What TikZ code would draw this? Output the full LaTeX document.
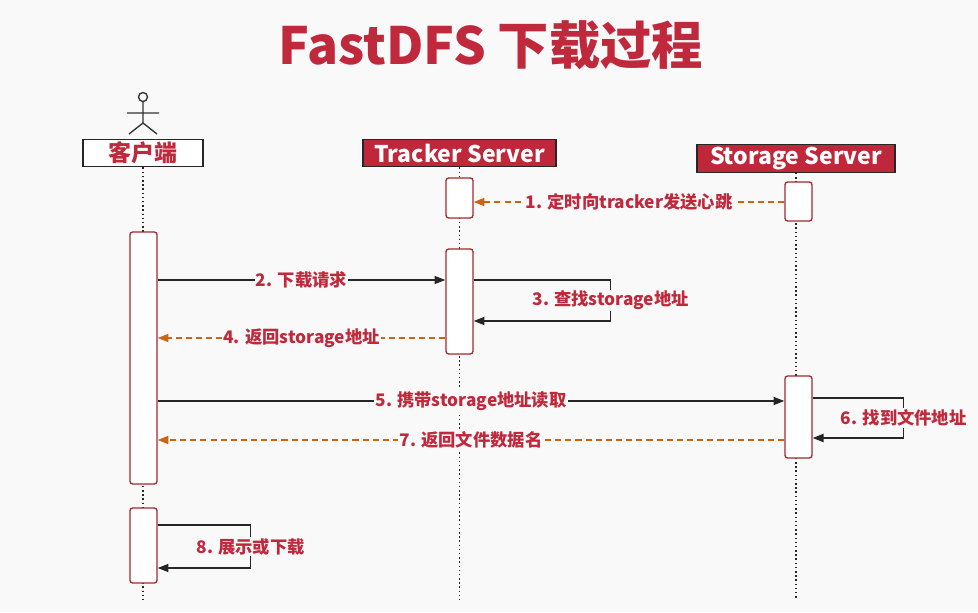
\documentclass[tikz,border=0pt]{standalone}
\usepackage{fontspec}
\setmainfont{Noto Sans CJK SC}
\usepackage{tikz}
\usetikzlibrary{positioning, calc, fit, arrows.meta}
\definecolor{titlered}{RGB}{192,40,60}
\definecolor{boxred}{RGB}{190,40,58}
\definecolor{actred}{RGB}{165,40,45}
\definecolor{replyorange}{RGB}{205,100,20}
\definecolor{bggray}{RGB}{249,249,249}

\begin{document}
\begin{tikzpicture}[x=0.026cm, y=-0.026cm,
  head/.style={draw=black!85, line width=0.9pt, minimum height=0.72cm, inner sep=0pt, font=\fontsize{17}{17}\selectfont\bfseries},
  lifeline/.style={dotted, line width=1.1pt, black!85},
  act/.style={draw=actred, fill=white, rounded corners=2pt, line width=1pt, inner sep=0pt},
  call/.style={line width=1.1pt, black!85, -{Triangle[length=8pt, width=6pt]}},
  reply/.style={line width=1.1pt, replyorange, dash pattern=on 4.5pt off 3pt, -{Triangle[length=8pt, width=6pt]}},
  msg/.style={fill=bggray, inner sep=1pt, text=titlered, font=\fontsize{12.8}{13}\selectfont\bfseries}]

\fill[bggray] (0,0) rectangle (978,612);
\useasboundingbox (0,0) rectangle (978,612);

\node [text=titlered, font=\fontsize{38}{40}\selectfont\bfseries] (title) at (491,45) {FastDFS 下载过程};

% actor
\draw [line width=1pt, black!80] (143,97) circle (4.5);
\draw [line width=1pt, black!80] (143,101.5) -- (143,123) (127,113) -- (159,113)
  (129,134) -- (143,123) -- (157,134);

% heads
\node [head, fill=white, text=titlered, minimum width=3.12cm, font=\fontsize{17}{17}\selectfont\bfseries] (client) at (143,153) {客户端};
\node [head, fill=boxred, text=white, minimum width=5.02cm] (tracker) at (459.5,153) {Tracker Server};
\node [head, fill=boxred, text=white, minimum width=5.15cm] (storage) at (796,158.5) {Storage Server};

\coordinate (bottom) at (0,600);
\draw [lifeline] (client.south) -- (client.south |- bottom);
\draw [lifeline] (tracker.south) -- (tracker.south |- bottom);
\draw [lifeline] (storage.south) -- (storage.south |- bottom);

% activations
\node [act, fit={(446,178) (473,218)}] (ta1) {};
\node [act, fit={(785,182) (812,221)}] (sa1) {};
\node [act, fit={(130,232) (157,484)}] (ca1) {};
\node [act, fit={(446,249) (473,354)}] (ta2) {};
\node [act, fit={(785,376) (812,458)}] (sa2) {};
\node [act, fit={(130,508) (157,583)}] (ca2) {};

% messages
\coordinate (m1) at (0,202);
\coordinate (m2) at (0,280);
\coordinate (m3) at (0,321);
\coordinate (m4) at (0,338);
\coordinate (m5) at (0,401);
\coordinate (m6a) at (0,398);
\coordinate (m6b) at (0,438);
\coordinate (m7) at (0,440);
\coordinate (m8a) at (0,525);
\coordinate (m8b) at (0,568);

\draw [reply] (sa1.west |- m1) -- (ta1.east |- m1) node [msg, midway] {1. 定时向tracker发送心跳};
\draw [call] (ca1.east |- m2) -- (ta2.west |- m2) node [msg, midway] {2. 下载请求};
\draw [call] (ta2.east |- m2) -- ++(137,0) |- (ta2.east |- m3) node [msg, pos=0.25] {3. 查找storage地址};
\draw [reply] (ta2.west |- m4) -- (ca1.east |- m4) node [msg, midway] {4. 返回storage地址};
\draw [call] (ca1.east |- m5) -- (sa2.west |- m5) node [msg, midway] {5. 携带storage地址读取};
\draw [call] (sa2.east |- m6a) -- ++(91,0) |- (sa2.east |- m6b) node [msg, pos=0.25] {6. 找到文件地址};
\draw [reply] (sa2.west |- m7) -- (ca1.east |- m7) node [msg, midway] {7. 返回文件数据名};
\draw [call] (ca2.east |- m8a) -- ++(93,0) |- (ca2.east |- m8b) node [msg, pos=0.25] {8. 展示或下载};
\end{tikzpicture}
\end{document}
